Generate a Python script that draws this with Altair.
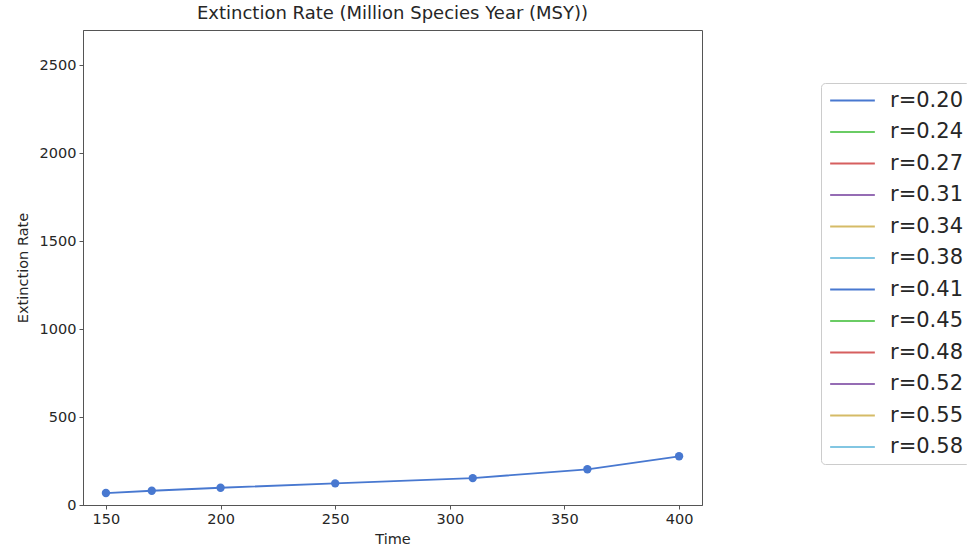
import altair as alt
import pandas as pd

# Simulated extinction rate for the r=0.20 run
times = [150, 170, 200, 250, 310, 360, 400]
rates = [68, 81, 98, 123, 153, 203, 277]

# Growth-rate settings shown in the legend
r_labels = ["r=0.20", "r=0.24", "r=0.27", "r=0.31", "r=0.34", "r=0.38",
            "r=0.41", "r=0.45", "r=0.48", "r=0.52", "r=0.55", "r=0.58"]
palette = ["#4878d0", "#6acc64", "#d65f5f", "#956cb4", "#d5bb67", "#82c6e2"] * 2

x_ticks = [150, 200, 250, 300, 350, 400]
y_ticks = [0, 500, 1000, 1500, 2000, 2500]

df = pd.DataFrame({"Time": times, "Rate": rates, "series": ["r=0.20"] * len(times)})

FONT = "DejaVu Sans"

color = alt.Color(
    "series:N",
    scale=alt.Scale(domain=r_labels, range=palette),
    legend=alt.Legend(
        title=None,
        orient="none",
        legendX=738,
        legendY=53,
        # long flat stroke as the legend key, kept short in height
        symbolType="M-3,0L3,0",
        symbolSize=222,
        symbolStrokeWidth=2,
        symbolOffset=14,
        labelFontSize=21,
        labelFont=FONT,
        labelColor="#262626",
        labelOffset=27,
        rowPadding=9.5,
        padding=7,
        strokeColor="#cccccc",
        fillColor="white",
        cornerRadius=4,
    ),
)

x = alt.X(
    "Time:Q",
    scale=alt.Scale(domain=[140, 410], nice=False, zero=False),
    axis=alt.Axis(values=x_ticks, title="Time", titlePadding=7, format="d"),
)
y = alt.Y(
    "Rate:Q",
    scale=alt.Scale(domain=[0, 2700], nice=False),
    axis=alt.Axis(values=y_ticks, title="Extinction Rate", titlePadding=9, format="d"),
)

base = alt.Chart(df).encode(x=x, y=y, color=color)
line = base.mark_line(strokeWidth=1.8)
points = base.mark_circle(size=70, opacity=1)

chart = (
    alt.layer(line, points)
    .properties(
        width=619,
        height=475,
        title=alt.TitleParams(
            "Extinction Rate (Million Species Year (MSY))",
            fontSize=18,
            fontWeight="normal",
            font=FONT,
            color="#262626",
            offset=7,
        ),
        autosize=alt.AutoSizeParams(type="none"),
        padding={"left": 83, "top": 30, "right": 265, "bottom": 45},
    )
    .configure_view(stroke="#555555", strokeWidth=1)
    .configure_axis(
        grid=False,
        domainColor="#555555",
        tickColor="#555555",
        tickSize=4,
        labelFont=FONT,
        labelFontSize=14.5,
        labelColor="#262626",
        titleFont=FONT,
        titleFontSize=14.5,
        titleFontWeight="normal",
        titleColor="#262626",
        labelPadding=3,
    )
)

chart.save("out.html", embed_options={"renderer": "svg", "actions": False})
